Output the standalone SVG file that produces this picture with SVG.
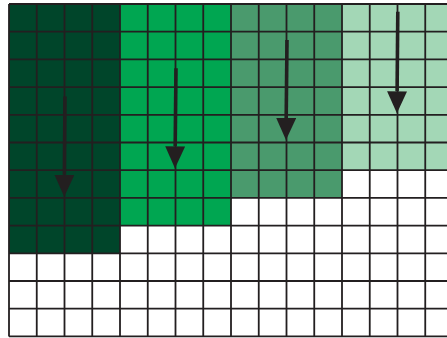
<svg xmlns="http://www.w3.org/2000/svg" width="447" height="338" viewBox="0 0 447 338">
  <defs>
    <style>
      .grid { fill: none; stroke: #231F20; stroke-width: 1.8; }
      .arrow { stroke: #231F20; stroke-width: 3.6; fill: none; marker-end: url(#head); }
    </style>
    <marker id="head" viewBox="0 0 22 20" refX="0" refY="10" markerWidth="22" markerHeight="20" markerUnits="userSpaceOnUse" orient="auto">
      <path d="M0,0 L22,10 L0,20 Z" fill="#231F20"/>
    </marker>
  </defs>
  <rect x="0" y="0" width="447" height="338" fill="#ffffff"/>
  <g id="region-dark"><rect x="9" y="4" width="111" height="249.3" fill="#00452A"/></g>
  <g id="region-green"><rect x="120" y="4" width="111" height="221.6" fill="#00A651"/></g>
  <g id="region-mid"><rect x="231" y="4" width="111" height="193.9" fill="#4A9A6D"/></g>
  <g id="region-light"><rect x="342" y="4" width="111" height="166.2" fill="#A3D7B6"/></g>
  <g id="grid">
    <path class="grid" d="M9,4V336.4 M36.75,4V336.4 M64.5,4V336.4 M92.25,4V336.4 M120,4V336.4 M147.75,4V336.4 M175.5,4V336.4 M203.25,4V336.4 M231,4V336.4 M258.75,4V336.4 M286.5,4V336.4 M314.25,4V336.4 M342,4V336.4 M369.75,4V336.4 M397.5,4V336.4 M425.25,4V336.4 M9,4H447 M9,31.7H447 M9,59.4H447 M9,87.1H447 M9,114.8H447 M9,142.5H447 M9,170.2H447 M9,197.9H447 M9,225.6H447 M9,253.3H447 M9,281H447 M9,308.7H447 M9,336.4H447"/>
  </g>
  <g id="connectors">
    <line class="arrow" x1="65" y1="96.5" x2="64.4" y2="174.7"/>
    <line class="arrow" x1="176" y1="68.3" x2="175.2" y2="146.3"/>
    <line class="arrow" x1="287" y1="40" x2="286.2" y2="118"/>
    <line class="arrow" x1="397.8" y1="11.7" x2="397.1" y2="91.3"/>
  </g>
</svg>
